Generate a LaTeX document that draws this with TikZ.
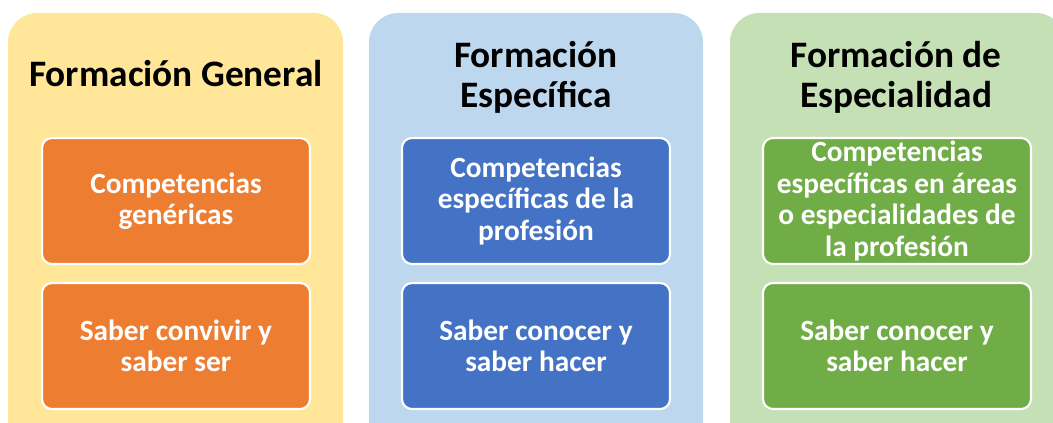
\documentclass[tikz,border=0pt]{standalone}
\usepackage{fontspec}
\setmainfont{Carlito}
\definecolor{yelbg}{HTML}{FFE699}
\definecolor{blubg}{HTML}{BDD7EE}
\definecolor{grnbg}{HTML}{C5E0B4}
\definecolor{orabox}{HTML}{ED7D31}
\definecolor{blubox}{HTML}{4472C4}
\definecolor{grnbox}{HTML}{70AD47}
\tikzset{
  panel/.style={rounded corners=22pt},
  innerbox/.style={draw=white, line width=1.6pt, rounded corners=7.5pt, minimum width=201pt, minimum height=94.5pt, align=center, text=white, font=\bfseries\fontsize{22}{23.6}\selectfont, inner sep=0pt},
  title/.style={align=center, text=black, font=\bfseries\fontsize{28}{30}\selectfont, inner sep=0pt}
}
\begin{document}
\begin{tikzpicture}[x=0.75pt,y=-0.75pt]
\useasboundingbox (0,0) rectangle (1053,423);
\clip (0,0) rectangle (1053,423);
\fill[white] (0,0) rectangle (1053,423);
% panels
\fill[yelbg, panel] (8,13) rectangle (343,470);
\fill[blubg, panel] (369,13) rectangle (703,470);
\fill[grnbg, panel] (730,13) rectangle (1065,470);
% titles
\node[title] (t1) at (176,74) {Formación General};
\node[title] (t2) at (536,77) {Formación\\Específica};
\node[title] (t3) at (896,77) {Formación de\\Especialidad};
% inner boxes
\node[innerbox, fill=orabox] (a1) at (176,201) {Competencias\\genéricas};
\node[innerbox, fill=orabox] (a2) at (176,346) {Saber convivir y\\saber ser};
\node[innerbox, fill=blubox] (b1) at (536,201) {Competencias\\específicas de la\\profesión};
\node[innerbox, fill=blubox] (b2) at (536,346) {Saber conocer y\\saber hacer};
\node[innerbox, fill=grnbox] (c1) at (897,201) {Competencias\\específicas en áreas\\o especialidades de\\la profesión};
\node[innerbox, fill=grnbox] (c2) at (897,346) {Saber conocer y\\saber hacer};
\end{tikzpicture}
\end{document}
